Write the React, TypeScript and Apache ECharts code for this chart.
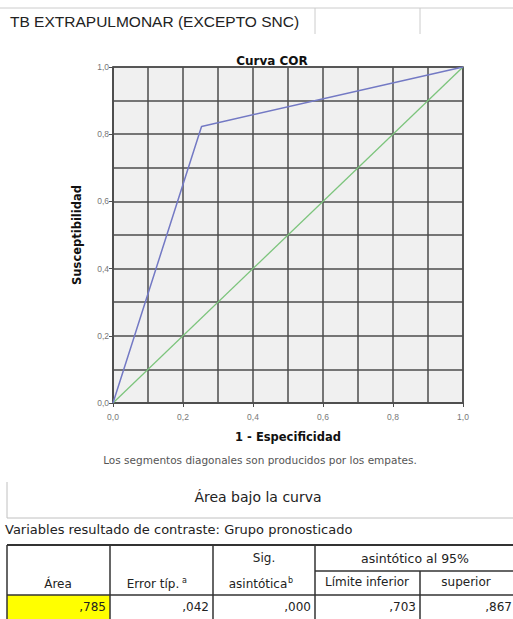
import React, { useEffect, useRef } from "react";
import * as echarts from "echarts";

const pageTitle = "TB EXTRAPULMONAR (EXCEPTO SNC)";
const chartTitle = "Curva COR";
const xAxisName = "1 - Especificidad";
const yAxisName = "Susceptibilidad";
const footnote = "Los segmentos diagonales son producidos por los empates.";
const tableTitle = "Área bajo la curva";
const tableSubtitle = "Variables resultado de contraste: Grupo pronosticado";

// ROC curve points (1 - specificity, sensitivity)
const rocX = [0, 0.253, 1];
const rocY = [0, 0.823, 1];
// Reference diagonal
const refX = [0, 1];
const refY = [0, 1];

// Table
const tableValues = [",785", ",042", ",000", ",703", ",867"];

const FONT = "'Liberation Sans', Arial, sans-serif";
const WFONT = "'DejaVu Sans', 'Liberation Sans', sans-serif";

export default function App() {
  const ref = useRef<HTMLDivElement>(null);
  useEffect(() => {
    if (!ref.current) return;
    const chart = echarts.init(ref.current, null, { renderer: "svg" });
    const fmt = (v: number) => v.toFixed(1).replace(".", ",");
    const gridLine = { lineStyle: { color: "#4d4d4d", width: 1.5 } };
    const txt = (
      text: string,
      x: number,
      y: number,
      font: string,
      align: string = "left",
      fill: string = "#222"
    ) => ({
      type: "text",
      x,
      y,
      silent: true,
      style: { text, font, fill, textAlign: align, textVerticalAlign: "middle" },
    });
    const ln = (x1: number, y1: number, x2: number, y2: number, color: string, w: number) => ({
      type: "line",
      silent: true,
      shape: { x1, y1, x2, y2 },
      style: { stroke: color, lineWidth: w },
    });
    const colX = [7, 110, 213, 315, 420, 516];
    const hTop = 545;
    const hMid = 571;
    const hBot = 595;
    const rowMid = 607;
    const graphics: any[] = [
      // page title bar
      ln(0, 8, 513, 8, "#cccccc", 1),
      ln(315, 8, 315, 34, "#cccccc", 1),
      ln(420, 8, 420, 34, "#cccccc", 1),
      txt(pageTitle, 10, 21, `15.5px ${FONT}`, "left", "#222"),
      // footnote
      txt(footnote, 260, 460, `10.5px ${WFONT}`, "center", "#555"),
      // table title box
      ln(7, 482, 7, 518, "#c0c0c0", 1),
      ln(7, 518, 513, 518, "#c0c0c0", 1),
      txt(tableTitle, 258, 497, `14px ${WFONT}`, "center", "#222"),
      txt(tableSubtitle, 5, 529, `13px ${WFONT}`, "left", "#222"),
      // yellow cell
      {
        type: "rect",
        silent: true,
        shape: { x: colX[0], y: hBot, width: colX[1] - colX[0], height: 619 - hBot },
        style: { fill: "#ffff00" },
      },
      // table lines
      ln(colX[0], hTop, 513, hTop, "#333", 2),
      ln(colX[0], hBot, 513, hBot, "#333", 1.5),
      ln(colX[3], hMid, 513, hMid, "#333", 1.5),
      ln(colX[0], hTop, colX[0], 619, "#333", 1.5),
      ln(colX[1], hTop, colX[1], 619, "#333", 1.5),
      ln(colX[2], hTop, colX[2], 619, "#333", 1.5),
      ln(colX[3], hTop, colX[3], 619, "#333", 1.5),
      ln(colX[4], hMid, colX[4], 619, "#333", 1.5),
      // header text
      txt("Área", 58, 584, `12px ${WFONT}`, "center"),
      txt("Error típ.", 153, 584, `12px ${WFONT}`, "center"),
      txt("a", 182, 580, `8px ${WFONT}`, "left"),
      txt("Sig.", 264, 558, `12px ${WFONT}`, "center"),
      txt("asintótica", 258, 584, `12px ${WFONT}`, "center"),
      txt("b", 288, 580, `8px ${WFONT}`, "left"),
      txt("asintótico al 95%", 415, 558, `12.5px ${WFONT}`, "center"),
      txt("Límite inferior", 367, 582, `12px ${WFONT}`, "center"),
      txt("superior", 466, 582, `12px ${WFONT}`, "center"),
    ];
    tableValues.forEach((v, i) => {
      const right = i === tableValues.length - 1 ? 512 : colX[i + 1] - 4;
      graphics.push(txt(v, right, rowMid, `12px ${WFONT}`, "right"));
    });

    const axisName = { fontFamily: WFONT, fontSize: 11.5, fontWeight: "bold", color: "#111" };
    const axisLbl = { formatter: fmt, fontFamily: FONT, fontSize: 8.5, color: "#777" };

    chart.setOption({
      animation: false,
      backgroundColor: "#ffffff",
      title: {
        text: chartTitle,
        left: 267,
        top: 50,
        textAlign: "center",
        textStyle: { fontFamily: WFONT, fontSize: 12, fontWeight: "bold", color: "#111" },
      },
      grid: {
        left: 113,
        top: 67,
        width: 350,
        height: 336,
        show: true,
        backgroundColor: "#f0f0f0",
        borderColor: "#4d4d4d",
        borderWidth: 1.5,
      },
      xAxis: {
        type: "value",
        min: 0,
        max: 1,
        interval: 0.2,
        name: xAxisName,
        nameLocation: "middle",
        nameGap: 28,
        nameTextStyle: axisName,
        axisLine: { show: true, lineStyle: { color: "#4d4d4d", width: 1.5 } },
        axisTick: { show: true, length: 4, lineStyle: { color: "#4d4d4d" } },
        axisLabel: { ...axisLbl, margin: 9 },
        splitLine: { show: true, ...gridLine },
        minorTick: { show: false, splitNumber: 2 },
        minorSplitLine: { show: true, ...gridLine },
      },
      yAxis: {
        type: "value",
        min: 0,
        max: 1,
        interval: 0.2,
        name: yAxisName,
        nameLocation: "middle",
        nameGap: 30,
        nameTextStyle: axisName,
        axisLine: { show: true, lineStyle: { color: "#4d4d4d", width: 1.5 } },
        axisTick: { show: true, length: 4, lineStyle: { color: "#4d4d4d" } },
        axisLabel: { ...axisLbl, margin: 4 },
        splitLine: { show: true, ...gridLine },
        minorTick: { show: false, splitNumber: 2 },
        minorSplitLine: { show: true, ...gridLine },
      },
      series: [
        {
          type: "line",
          data: refX.map((x, i) => [x, refY[i]]),
          symbol: "none",
          lineStyle: { color: "#7cc47c", width: 1.3 },
          z: 3,
        },
        {
          type: "line",
          data: rocX.map((x, i) => [x, rocY[i]]),
          symbol: "none",
          lineStyle: { color: "#7379c4", width: 1.5 },
          z: 4,
        },
      ],
      graphic: graphics,
    });
    return () => chart.dispose();
  }, []);
  return (
    <div style={{ position: "fixed", left: 0, top: 0, width: 513, height: 619 }}>
      <div ref={ref} style={{ width: 513, height: 619 }} />
    </div>
  );
}
